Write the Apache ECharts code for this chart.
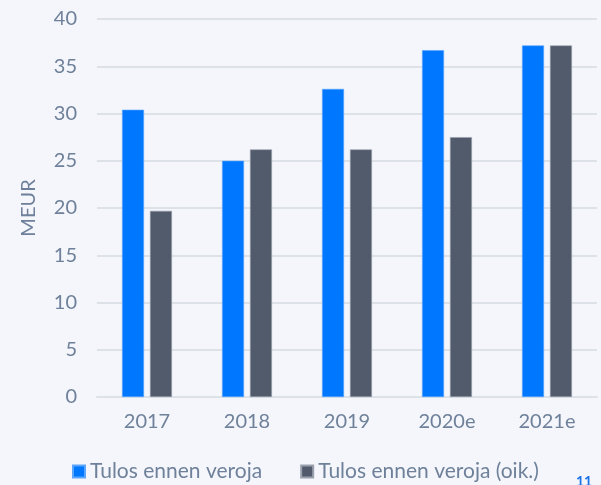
<!DOCTYPE html>
<html><head><meta charset="utf-8">
<script src="https://cdn.jsdelivr.net/npm/echarts@6/dist/echarts.min.js"></script>
<style>html,body{margin:0;padding:0;background:#F4F6FB;}#c{width:601px;height:485px;}</style>
</head><body><div id="c"></div>
<script>
const categories = ['2017', '2018', '2019', '2020e', '2021e'];
const seriesNames = ['Tulos ennen veroja', 'Tulos ennen veroja (oik.)'];
const tulos = [30.4, 25.0, 32.6, 36.7, 37.2];
const tulosOik = [19.7, 26.2, 26.2, 27.5, 37.2];
const yTicks = [0, 5, 10, 15, 20, 25, 30, 35, 40];

const chart = echarts.init(document.getElementById('c'));
const txt = '#6F819A';
const ff = 'Lato, "Open Sans", sans-serif';
chart.setOption({
  backgroundColor: '#F4F6FB',
  animation: false,
  textStyle: { fontFamily: ff },
  grid: { left: 97, right: 4, top: 19, bottom: 88 },
  legend: {
    top: 456, left: 67,
    itemWidth: 12, itemHeight: 12, itemGap: 38,
    icon: 'rect',
    textStyle: { color: txt, fontSize: 21, fontFamily: ff },
    data: seriesNames
  },
  xAxis: {
    type: 'category', data: categories,
    axisLine: { show: true, lineStyle: { color: '#DDE2E8', width: 2 } },
    axisTick: { show: false },
    axisLabel: { color: txt, fontSize: 20, margin: 15, fontFamily: ff }
  },
  yAxis: {
    type: 'value', min: yTicks[0], max: yTicks[yTicks.length - 1], interval: 5,
    name: 'MEUR', nameLocation: 'middle', nameGap: 58, nameRotate: 90,
    nameTextStyle: { color: txt, fontSize: 20, fontFamily: ff },
    axisLine: { show: false }, axisTick: { show: false },
    axisLabel: { color: txt, fontSize: 20, margin: 20, fontFamily: ff },
    splitLine: { lineStyle: { color: '#DDE2E8', width: 2 } }
  },
  series: [
    { name: seriesNames[0], type: 'bar', data: tulos, barWidth: 22, barGap: '27%',
      itemStyle: { color: '#0077FF', borderColor: '#5AA5FF', borderWidth: 0.6 } },
    { name: seriesNames[1], type: 'bar', data: tulosOik, barWidth: 22,
      itemStyle: { color: '#525B6B', borderColor: '#9AA1AD', borderWidth: 0.6 } }
  ],
  graphic: [{ type: 'text', left: 576, top: 474,
    style: { text: '11', fill: '#1A73E8', font: 'bold 14px Lato, sans-serif' } }]
});
</script></body></html>
